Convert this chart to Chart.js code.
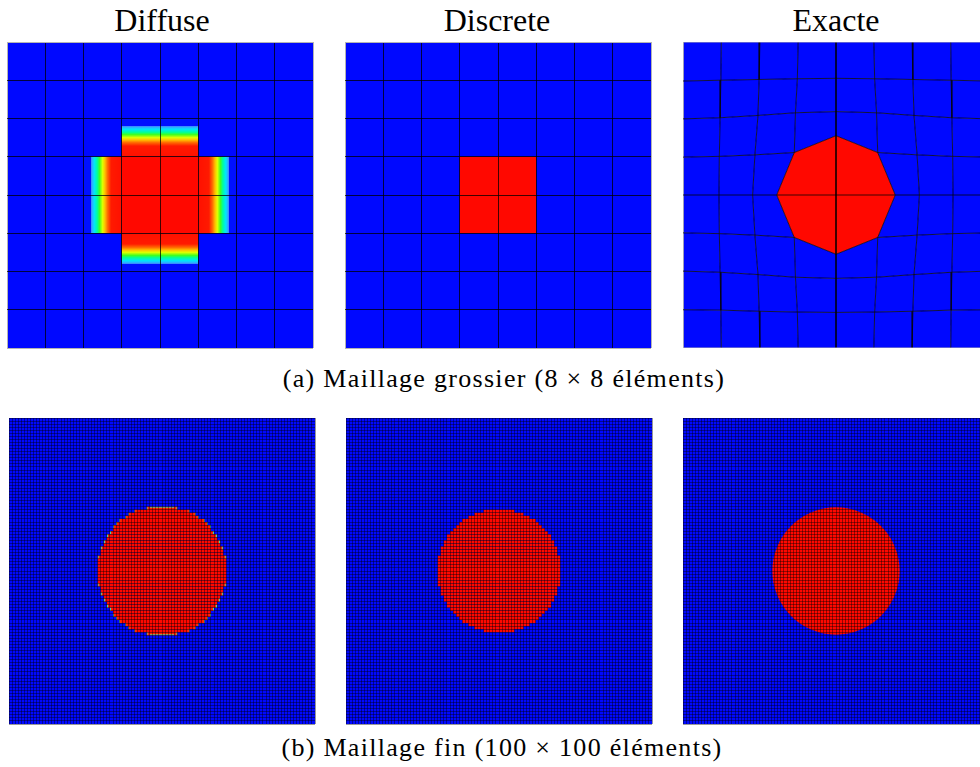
<!DOCTYPE html>
<html>
<head>
<meta charset="utf-8">
<script src="https://cdn.jsdelivr.net/npm/chart.js@4.4.0/dist/chart.umd.min.js"></script>
<style>
body{margin:0;background:#fff;width:980px;height:767px;overflow:hidden;position:relative;font-family:"Liberation Serif","Times New Roman","DejaVu Serif",serif;color:#000;}
.panel{position:absolute;}
.title{position:absolute;top:4px;width:300px;text-align:center;font-size:32px;line-height:32px;}
.cap{position:absolute;width:600px;text-align:center;font-size:26px;line-height:26px;letter-spacing:1.3px;white-space:nowrap;}
</style>
</head>
<body>
<div class="title" style="left:12px">Diffuse</div>
<div class="title" style="left:347px">Discrete</div>
<div class="title" style="left:686px">Exacte</div>
<div class="cap" style="left:204px;top:366px">(a) Maillage grossier (8 × 8 éléments)</div>
<div class="cap" style="left:202px;top:735px">(b) Maillage fin (100 × 100 éléments)</div>
<script>
// ---- data ----
const coarseN = 8;
const fineN = 100;

// 0 = blue element, 1 = red element, letters = graded element (direction in which the value rises)
const coarseDiffuse = [
  [0,0,0,0,0,0,0,0],
  [0,0,0,0,0,0,0,0],
  [0,0,0,'S','S',0,0,0],
  [0,0,'E',1,1,'W',0,0],
  [0,0,'E',1,1,'W',0,0],
  [0,0,0,'N','N',0,0,0],
  [0,0,0,0,0,0,0,0],
  [0,0,0,0,0,0,0,0]
];
const coarseDiscrete = [
  [0,0,0,0,0,0,0,0],
  [0,0,0,0,0,0,0,0],
  [0,0,0,0,0,0,0,0],
  [0,0,0,1,1,0,0,0],
  [0,0,0,1,1,0,0,0],
  [0,0,0,0,0,0,0,0],
  [0,0,0,0,0,0,0,0],
  [0,0,0,0,0,0,0,0]
];
// conforming mesh nodes (element units, rows from the top)
const exactNodeX = [
  [0, 1.00, 2.01, 3.01, 4, 4.99, 5.99, 7.00, 8],
  [0, 0.99, 1.99, 2.99, 4, 5.01, 6.01, 7.01, 8],
  [0, 0.97, 1.96, 2.94, 4, 5.06, 6.04, 7.03, 8],
  [0, 0.95, 1.88, 2.91, 4, 5.09, 6.12, 7.05, 8],
  [0, 0.94, 1.82, 2.45, 4, 5.55, 6.18, 7.06, 8],
  [0, 0.95, 1.88, 2.91, 4, 5.09, 6.12, 7.05, 8],
  [0, 0.97, 1.96, 2.94, 4, 5.06, 6.04, 7.03, 8],
  [0, 0.99, 1.99, 2.99, 4, 5.01, 6.01, 7.01, 8],
  [0, 1.00, 2.01, 3.01, 4, 4.99, 5.99, 7.00, 8]
];
const exactNodeY = [
  [0, 0, 0, 0, 0, 0, 0, 0, 0],
  [1.02, 1.00, 0.98, 0.96, 0.95, 0.96, 0.98, 1.00, 1.02],
  [2.01, 1.98, 1.92, 1.85, 1.82, 1.85, 1.92, 1.98, 2.01],
  [3.01, 2.99, 2.95, 2.89, 2.45, 2.89, 2.95, 2.99, 3.01],
  [4, 4, 4, 4, 4, 4, 4, 4, 4],
  [4.99, 5.01, 5.05, 5.11, 5.55, 5.11, 5.05, 5.01, 4.99],
  [5.99, 6.02, 6.08, 6.15, 6.18, 6.15, 6.08, 6.02, 5.99],
  [7.00, 7.01, 7.04, 7.06, 7.07, 7.06, 7.04, 7.01, 7.00],
  [8, 8, 8, 8, 8, 8, 8, 8, 8]
];
const exactRed = [
  [0,0,0,0,0,0,0,0],
  [0,0,0,0,0,0,0,0],
  [0,0,0,0,0,0,0,0],
  [0,0,0,1,1,0,0,0],
  [0,0,0,1,1,0,0,0],
  [0,0,0,0,0,0,0,0],
  [0,0,0,0,0,0,0,0],
  [0,0,0,0,0,0,0,0]
];

// fine meshes: red cells per row = half-width each side of column 50
const fineCentre = 50;
const fineDiffuseTop = 29;
const fineDiffuseHalf = [5,9,11,12,14,15,16,16,17,18,18,19,19,20,20,20,21,21,21,21,21,
                         21,21,21,21,21,20,20,20,19,19,18,18,17,16,16,15,14,12,11,9,5];
const fineDiscreteTop = 30;
const fineDiscreteHalf = [5,8,10,12,13,14,15,16,17,17,18,18,19,19,19,20,20,20,20,20,
                          20,20,20,20,20,19,19,19,18,18,17,17,16,15,14,13,12,10,8,5];
const exactCircleR = 20.8;

// ---- styling ----
const BLUE = '#0008ff', RED = '#ff0800';
const jet = [[0,'#0010ff'],[0.2,'#0010ff'],[0.21,'#3c9cff'],[0.28,'#00e4ff'],[0.36,'#00ff9a'],
             [0.42,'#40ff20'],[0.5,'#e0ff00'],[0.56,'#ffc000'],[0.63,'#ff6a00'],[0.72,'#ff1a00'],[1,'#ff1000']];
const fringe = [[0,'#20b8e0'],[0.2,'#40e0a0'],[0.32,'#ff3000'],[1,'#ff1000']];
const PAD = 2;

function rect(chart, c0, r0, c1, r1) {
  const x = chart.scales.x, y = chart.scales.y;
  const px0 = x.getPixelForValue(c0), px1 = x.getPixelForValue(c1);
  const py0 = y.getPixelForValue(r0), py1 = y.getPixelForValue(r1);
  return [px0, py0, px1 - px0, py1 - py0];
}

function grad(ctx, dir, x, y, w, h, stops) {
  let g;
  if (dir === 'E') g = ctx.createLinearGradient(x, 0, x + w, 0);
  else if (dir === 'W') g = ctx.createLinearGradient(x + w, 0, x, 0);
  else if (dir === 'S') g = ctx.createLinearGradient(0, y, 0, y + h);
  else g = ctx.createLinearGradient(0, y + h, 0, y);
  stops.forEach(s => g.addColorStop(s[0], s[1]));
  return g;
}

function drawMatrix(m) {
  return chart => {
    const ctx = chart.ctx;
    ctx.fillStyle = BLUE;
    ctx.fillRect(...rect(chart, 0, 0, coarseN, coarseN));
    m.forEach((row, r) => row.forEach((v, c) => {
      const [x, y, w, h] = rect(chart, c, r, c + 1, r + 1);
      ctx.fillStyle = typeof v === 'string' ? grad(ctx, v, x, y, w, h, jet) : (v ? RED : BLUE);
      ctx.fillRect(x, y, w, h);
    }));
  };
}

function drawSpans(top, half, withFringe) {
  return chart => {
    const ctx = chart.ctx;
    ctx.fillStyle = BLUE;
    ctx.fillRect(...rect(chart, 0, 0, fineN, fineN));
    half.forEach((h, i) => {
      const r = top + i;
      ctx.fillStyle = RED;
      ctx.fillRect(...rect(chart, fineCentre - h, r, fineCentre + h, r + 1));
      if (!withFringe) return;
      // only cells where the outline steps get a graded edge
      const prev = i > 0 ? half[i - 1] : 0, next = i < half.length - 1 ? half[i + 1] : 0;
      if (h > prev || h > next || i === 0 || i === half.length - 1) {
        let [x, y, w, hh] = rect(chart, fineCentre - h, r, fineCentre - h + 1, r + 1);
        ctx.fillStyle = grad(ctx, 'E', x, y, w, hh, fringe); ctx.fillRect(x, y, w, hh);
        [x, y, w, hh] = rect(chart, fineCentre + h - 1, r, fineCentre + h, r + 1);
        ctx.fillStyle = grad(ctx, 'W', x, y, w, hh, fringe); ctx.fillRect(x, y, w, hh);
      }
      if (i === 0 || i === half.length - 1) {
        const [x, y, w, hh] = rect(chart, fineCentre - h + 1, r, fineCentre + h - 1, r + 1);
        ctx.fillStyle = grad(ctx, i === 0 ? 'S' : 'N', x, y, w, hh, fringe); ctx.fillRect(x, y, w, hh);
      }
    });
  };
}

function drawExactCells(chart) {
  const ctx = chart.ctx, xs = chart.scales.x, ys = chart.scales.y;
  exactRed.forEach((row, r) => row.forEach((v, c) => {
    const nodes = [[r, c], [r, c + 1], [r + 1, c + 1], [r + 1, c]];
    ctx.beginPath();
    nodes.forEach(([i, j], k) => {
      const px = xs.getPixelForValue(exactNodeX[i][j]), py = ys.getPixelForValue(exactNodeY[i][j]);
      k ? ctx.lineTo(px, py) : ctx.moveTo(px, py);
    });
    ctx.closePath();
    ctx.fillStyle = v ? RED : BLUE;
    ctx.fill();
  }));
}

function axis(max, lineColor, edgeColor, rev) {
  const a = {
    type: 'linear', min: 0, max: max, reverse: !!rev,
    display: !!lineColor,
    ticks: {display: false, stepSize: 1, autoSkip: false},
    border: {display: false},
    grid: {display: false}
  };
  if (lineColor) {
    a.grid = {
      display: true, drawTicks: false, z: 1, lineWidth: 1,
      color: c => (c.tick && (c.tick.value === 0 || c.tick.value === max)) ? edgeColor : lineColor
    };
  }
  return a;
}

function makeChart(left, top, size, max, lineColor, edgeColor, draw, datasets) {
  const wrap = document.createElement('div');
  wrap.className = 'panel';
  wrap.style.left = (left - PAD) + 'px';
  wrap.style.top = (top - PAD) + 'px';
  wrap.style.width = (size + 2 * PAD) + 'px';
  wrap.style.height = (size + 2 * PAD) + 'px';
  const cv = document.createElement('canvas');
  wrap.appendChild(cv);
  document.body.appendChild(wrap);
  return new Chart(cv, {
    type: 'scatter',
    data: {datasets: datasets || []},
    options: {
      responsive: true, maintainAspectRatio: false, animation: false, events: [],
      layout: {padding: PAD},
      scales: {x: axis(max, lineColor, edgeColor, false), y: axis(max, lineColor, edgeColor, true)},
      plugins: {legend: {display: false}, tooltip: {enabled: false}}
    },
    plugins: [{id: 'cells', beforeDatasetsDraw: draw}]
  });
}

const coarseLine = 'rgba(0,0,0,0.75)', edge = '#b4b4b4', fineLine = 'rgba(0,0,0,0.4)';

// (a) coarse
makeChart(7, 42, 306, coarseN, coarseLine, edge, drawMatrix(coarseDiffuse));
makeChart(345, 42, 306, coarseN, coarseLine, edge, drawMatrix(coarseDiscrete));

const meshSets = [];
for (let r = 0; r <= coarseN; r++) {
  meshSets.push({
    data: exactNodeX[r].map((x, c) => ({x: x, y: exactNodeY[r][c]})),
    showLine: true, pointRadius: 0, borderWidth: 1,
    borderColor: (r === 0 || r === coarseN) ? edge : coarseLine
  });
}
for (let c = 0; c <= coarseN; c++) {
  meshSets.push({
    data: exactNodeX.map((row, r) => ({x: row[c], y: exactNodeY[r][c]})),
    showLine: true, pointRadius: 0, borderWidth: 1,
    borderColor: (c === 0 || c === coarseN) ? edge : coarseLine
  });
}
makeChart(683, 42, 306, coarseN, null, null, drawExactCells, meshSets);

// (b) fine
makeChart(9, 418, 306, fineN, fineLine, fineLine, drawSpans(fineDiffuseTop, fineDiffuseHalf, true));
makeChart(346, 418, 306, fineN, fineLine, fineLine, drawSpans(fineDiscreteTop, fineDiscreteHalf, false));
makeChart(683, 418, 306, fineN, fineLine, fineLine, chart => {
  chart.ctx.fillStyle = BLUE;
  chart.ctx.fillRect(...rect(chart, 0, 0, fineN, fineN));
}, [{
  data: [{x: fineCentre, y: fineCentre}],
  pointStyle: 'circle', borderWidth: 0, backgroundColor: RED,
  pointRadius: c => {
    const s = c.chart.scales.x;
    return s.getPixelForValue(fineCentre + exactCircleR) - s.getPixelForValue(fineCentre);
  }
}]);
</script>
</body>
</html>
